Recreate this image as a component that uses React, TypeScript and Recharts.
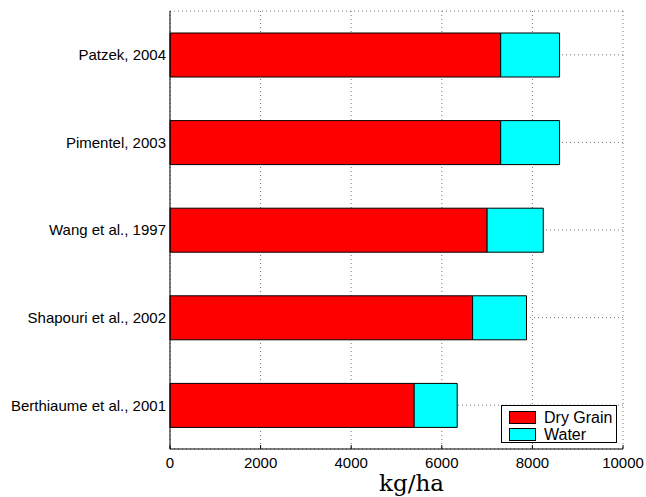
import { BarChart, Bar, XAxis, YAxis, CartesianGrid, Legend } from 'recharts';

const studies = [
  'Patzek, 2004',
  'Pimentel, 2003',
  'Wang et al., 1997',
  'Shapouri et al., 2002',
  'Berthiaume et al., 2001',
];
const dryGrain = [7300, 7300, 7000, 6680, 5390];
const water = [1300, 1300, 1240, 1190, 950];
const xTicks = [0, 2000, 4000, 6000, 8000, 10000];

const FONT = '"Liberation Sans", Arial, Helvetica, sans-serif';

const data = studies.map((name, i) => ({ name, dry: dryGrain[i], water: water[i] }));

// matlab-style ticks: marks point into the plot box
const BottomTick = ({ x, y, payload }: any) => (
  <g>
    <line x1={x} x2={x} y1={y} y2={y - 4} stroke="#000" />
    <text x={x} y={y + 18.5} textAnchor="middle" fontSize={15} fontFamily={FONT} fill="#000">
      {payload.value}
    </text>
  </g>
);

const TopTick = ({ x, y }: any) => <line x1={x} x2={x} y1={y} y2={y + 4} stroke="#000" />;

const RightTick = ({ x, y }: any) => <line x1={x} x2={x - 4} y1={y} y2={y} stroke="#000" />;

const AxisTitle = ({ viewBox }: any) => {
  if (!viewBox) return null;
  return (
    <text
      x={viewBox.x + viewBox.width / 2 + 15}
      y={viewBox.y + 42}
      textAnchor="middle"
      fontSize={23}
      fontFamily='"DejaVu Serif", "Liberation Serif", serif'
      fill="#000"
    >
      kg/ha
    </text>
  );
};

const LegendBox = ({ payload }: any) => (
  <div
    style={{
      boxSizing: 'border-box',
      width: 116,
      height: 38,
      border: '1px solid #000',
      background: '#fff',
      paddingTop: 3,
      fontFamily: FONT,
      fontSize: 16,
      color: '#000',
    }}
  >
    {(payload || []).map((p: any) => (
      <div key={p.value} style={{ display: 'flex', alignItems: 'center', height: 17 }}>
        <span
          style={{
            display: 'inline-block',
            boxSizing: 'border-box',
            width: 27,
            height: 13,
            marginLeft: 7,
            marginRight: 8,
            background: p.color,
            border: '1px solid #000',
          }}
        />
        <span style={{ lineHeight: '17px' }}>{p.value}</span>
      </div>
    ))}
  </div>
);

export default function App() {
  return (
    <div style={{ position: 'absolute', left: 0, top: 0, background: '#fff' }}>
      <BarChart
        width={646}
        height={497}
        data={data}
        layout="vertical"
        margin={{ top: 11, right: 23, bottom: 0, left: 0 }}
      >
        <CartesianGrid stroke="#777" strokeDasharray="1 3" />
        <XAxis
          type="number"
          domain={[0, 10000]}
          ticks={xTicks}
          height={48}
          tickSize={0}
          tickMargin={0}
          tickLine={false}
          axisLine={{ stroke: '#000' }}
          tick={<BottomTick />}
          interval={0}
          label={<AxisTitle />}
        />
        <XAxis
          xAxisId="top"
          orientation="top"
          type="number"
          domain={[0, 10000]}
          ticks={xTicks}
          height={0}
          tickSize={0}
          tickMargin={0}
          tickLine={false}
          axisLine={{ stroke: '#000' }}
          tick={<TopTick />}
          interval={0}
          allowDataOverflow
        />
        <YAxis
          type="category"
          dataKey="name"
          width={170}
          tickSize={0}
          tickMargin={4}
          tickLine={false}
          axisLine={{ stroke: '#000' }}
          tick={{ fontSize: 15, fontFamily: FONT, fill: '#000' }}
          interval={0}
        />
        <YAxis
          yAxisId="right"
          orientation="right"
          type="category"
          dataKey="name"
          width={0}
          tickSize={0}
          tickMargin={0}
          tickLine={false}
          axisLine={{ stroke: '#000' }}
          tick={<RightTick />}
          interval={0}
        />
        <Legend
          layout="vertical"
          align="center"
          verticalAlign="middle"
          wrapperStyle={{ position: 'absolute', left: 501, top: 405, width: 116, height: 38 }}
          content={<LegendBox />}
        />
        <Bar dataKey="dry" name="Dry Grain" stackId="a" fill="#ff0000" stroke="#000" strokeWidth={1} barSize={44} isAnimationActive={false} />
        <Bar dataKey="water" name="Water" stackId="a" fill="#00ffff" stroke="#000" strokeWidth={1} barSize={44} isAnimationActive={false} />
      </BarChart>
    </div>
  );
}
